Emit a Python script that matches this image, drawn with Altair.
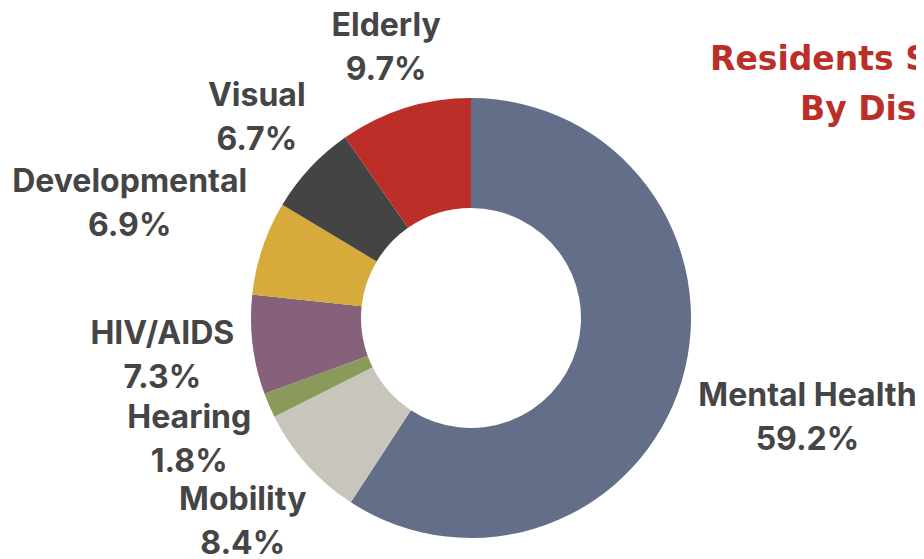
import altair as alt
import pandas as pd
import math

# ---- data ----
categories = ["Mental Health", "Mobility", "Hearing", "HIV/AIDS", "Developmental", "Visual", "Elderly"]
shares = [59.2, 8.4, 1.8, 7.3, 6.9, 6.7, 9.7]
colors = ["#636f88", "#c8c5bd", "#8a9a5b", "#85627a", "#d6aa3b", "#444444", "#bb2f28"]
title_lines = ["Residents Served", "By Disability"]

# ---- layout (label distance from centre, px) ----
label_radius = {"Mental Health": 351, "Mobility": 306, "Hearing": 307, "HIV/AIDS": 311,
                "Developmental": 360, "Visual": 293, "Elderly": 283}

df = pd.DataFrame({
    "category": categories,
    "share": shares,
    "order": list(range(len(categories))),
})
df["label"] = [f"{c}\n{v:.1f}%" for c, v in zip(categories, shares)]
df["lr"] = [label_radius[c] for c in categories]

CX, CY = 463, 310
W, H = 908, 551
LH = 44

color_scale = alt.Scale(domain=categories, range=colors)
theta_scale = alt.Scale(domain=[0, sum(shares)], range=[0, 2 * math.pi], zero=True, nice=False)

base = alt.Chart(df).transform_window(
    cum="sum(share)", sort=[alt.SortField("order", order="ascending")],
    frame=[None, 0],
).transform_calculate(
    start="datum.cum - datum.share",
    mid="datum.cum - datum.share / 2",
).encode(
    x=alt.value(CX),
    y=alt.value(CY),
)

arcs = base.mark_arc(innerRadius=110, outerRadius=220).encode(
    theta=alt.Theta("start:Q", scale=theta_scale),
    theta2=alt.Theta2("cum:Q"),
    color=alt.Color("category:N", scale=color_scale, legend=None),
)

labels = base.mark_text(
    font="Inter", fontSize=32, fontWeight="bold", color="#454545",
    lineBreak="\n", lineHeight=LH, align="center", baseline="middle", dy=-LH / 2,
).encode(
    theta=alt.Theta("mid:Q", scale=theta_scale),
    radius=alt.Radius("lr:Q", scale=None),
    text="label:N",
)

t1 = alt.Chart(pd.DataFrame({"t": [title_lines[0]]})).mark_text(
    font="DejaVu Sans", fontSize=33, fontWeight="bold", color="#bb2f28",
    align="left", baseline="alphabetic",
).encode(x=alt.value(702), y=alt.value(62), text="t:N")

t2 = alt.Chart(pd.DataFrame({"t": [title_lines[1]]})).mark_text(
    font="DejaVu Sans", fontSize=33, fontWeight="bold", color="#bb2f28",
    align="left", baseline="alphabetic",
).encode(x=alt.value(792), y=alt.value(112), text="t:N")

chart = alt.layer(arcs, labels, t1, t2).properties(
    width=W, height=H, padding=0, autosize=alt.AutoSizeParams(type="none"),
    background="white",
).configure_view(stroke=None)

chart.save("out.html", embed_options={"renderer": "svg", "actions": False})
